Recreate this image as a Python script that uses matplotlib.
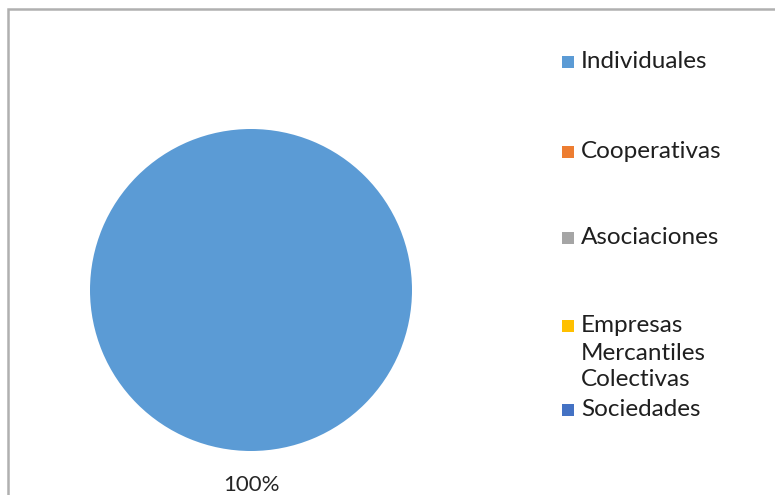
import matplotlib
matplotlib.use("Agg")
import matplotlib.pyplot as plt
from matplotlib.patches import Rectangle

categories = ["Individuales", "Cooperativas", "Asociaciones",
              "Empresas\nMercantiles\nColectivas", "Sociedades"]
values = [100, 0, 0, 0, 0]
colors = ["#5B9BD5", "#ED7D31", "#A5A5A5", "#FFC000", "#4472C4"]

W, H = 775, 495
fig = plt.figure(figsize=(W / 100, H / 100), dpi=100)
fig.patch.set_facecolor("white")
plt.rcParams["font.family"] = ["Lato", "DejaVu Sans"]

# chart frame (extends beyond right/bottom edges)
fig.patches.append(Rectangle((7.5 / W, -0.1), 1.2, (H - 8.5) / H + 0.1,
                             transform=fig.transFigure, fill=False,
                             edgecolor="#b0b0b0", linewidth=1.8))

cx, cy, r = 251, 290, 161
ax = fig.add_axes([(cx - r) / W, (H - cy - r) / H, 2 * r / W, 2 * r / H])
wedges, _ = ax.pie(values, colors=colors, startangle=90, counterclock=False,
                   radius=1, wedgeprops=dict(linewidth=0))
ax.set_xlim(-1, 1)
ax.set_ylim(-1, 1)
ax.set_aspect("equal")
ax.axis("off")

total = sum(values)
for v in values:
    if v > 0:
        ax.text(0, -1.21, f"{v / total * 100:.0f}%", ha="center", va="center",
                fontsize=16, color="#262626", clip_on=False)

# legend
ys = [62, 152, 238, 326, 410]
for lab, col, y in zip(categories, colors, ys):
    fig.patches.append(Rectangle((562 / W, (H - y - 6) / H), 12 / W, 12 / H,
                                 transform=fig.transFigure,
                                 facecolor=col, edgecolor="none"))
    lines = lab.split("\n")
    for i, txt in enumerate(lines):
        fig.text(581 / W, (H - y - 27 * i) / H, txt, ha="left", va="center",
                 fontsize=17.5, color="#1f1f1f")

fig.savefig("out.png", dpi=100)
